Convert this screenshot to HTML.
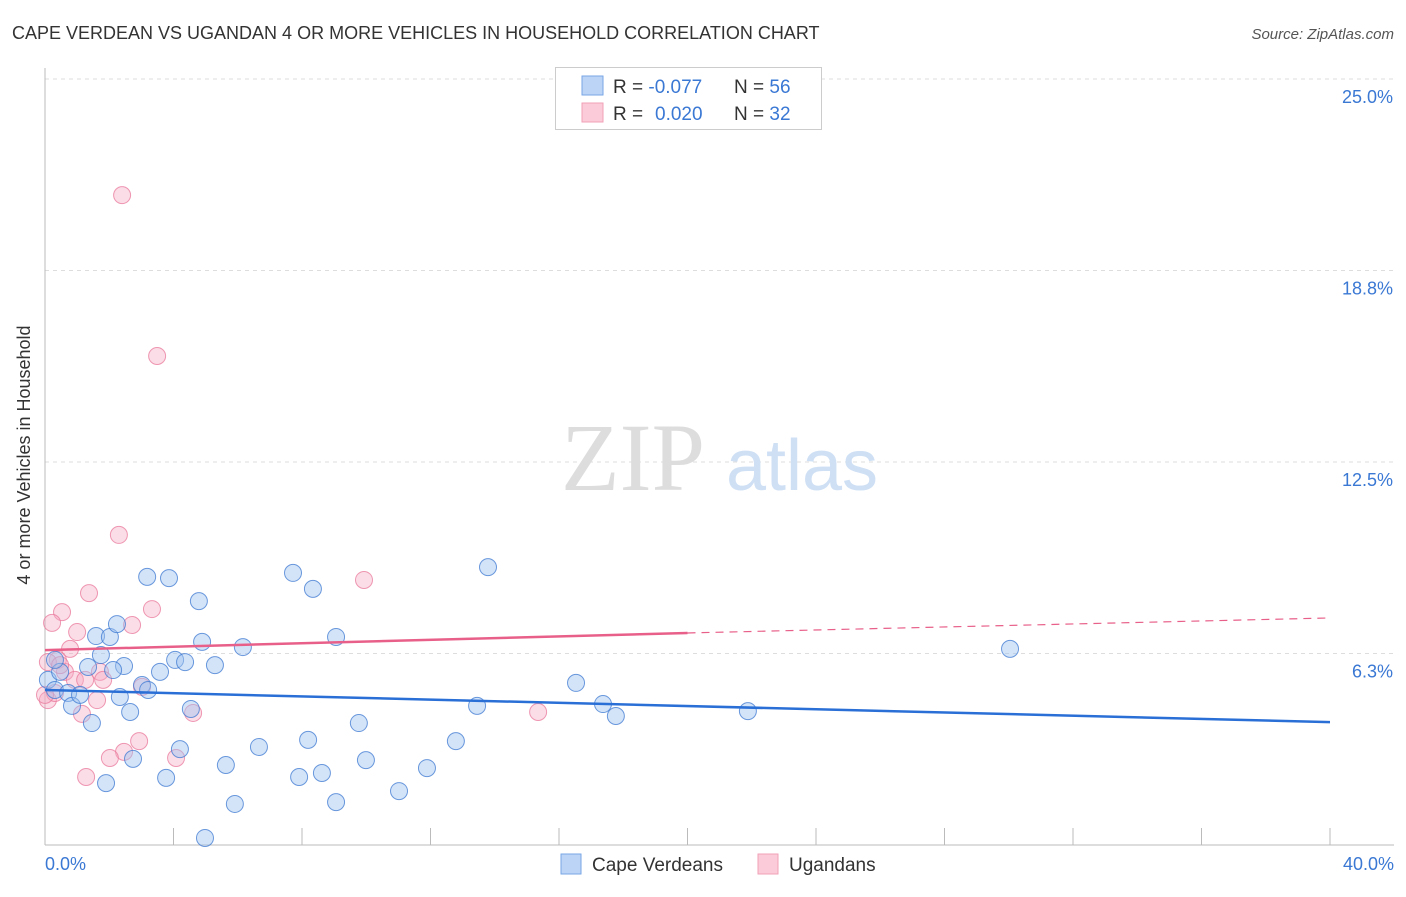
<!DOCTYPE html>
<html><head><meta charset="utf-8"><style>
body{margin:0;background:#fff;font-family:"Liberation Sans",sans-serif;}
svg text{font-family:"Liberation Sans",sans-serif;}
</style></head><body>
<svg id="chart" width="1406" height="892" xmlns="http://www.w3.org/2000/svg">
<text x="12" y="39" font-size="18" fill="#333">CAPE VERDEAN VS UGANDAN 4 OR MORE VEHICLES IN HOUSEHOLD CORRELATION CHART</text>
<text x="1394" y="39" font-size="15" fill="#555" text-anchor="end" font-style="italic">Source: ZipAtlas.com</text>
<g id="grid"></g>
<text x="633" y="490" font-size="96" fill="#ddd" text-anchor="middle" font-family="Liberation Serif" style="font-family:'Liberation Serif',serif">ZIP</text>
<text x="802" y="490" font-size="72" fill="#cfe0f5" text-anchor="middle">atlas</text>
<g id="points"></g>
<g id="trends"></g>
<text x="30" y="455" font-size="18" fill="#333" text-anchor="middle" transform="rotate(-90 30 455)">4 or more Vehicles in Household</text>
<text x="45" y="870" font-size="18" fill="#3a78d4">0.0%</text>
<text x="1394" y="870" font-size="18" fill="#3a78d4" text-anchor="end">40.0%</text>
<g>
<rect x="555.5" y="67.5" width="266" height="62" fill="#fff" stroke="#ccc"/>
<rect x="582" y="76" width="21" height="19" fill="#bcd4f6" stroke="#7aa6e6"/>
<rect x="582" y="103" width="21" height="19" fill="#fbcbd9" stroke="#f0a0b8"/>
<text x="613" y="93" font-size="19" fill="#333">R = <tspan fill="#3a78d4">-0.077</tspan></text>
<text x="734" y="93" font-size="19" fill="#333">N = <tspan fill="#3a78d4">56</tspan></text>
<text x="613" y="120" font-size="19" fill="#333">R = <tspan fill="#3a78d4" x="655">0.020</tspan></text>
<text x="734" y="120" font-size="19" fill="#333">N = <tspan fill="#3a78d4">32</tspan></text>
</g>
<g>
<rect x="561" y="854" width="20" height="20" fill="#bcd4f6" stroke="#7aa6e6"/>
<text x="592" y="871" font-size="19" fill="#333">Cape Verdeans</text>
<rect x="758" y="854" width="20" height="20" fill="#fbcbd9" stroke="#f0a0b8"/>
<text x="789" y="871" font-size="19" fill="#333">Ugandans</text>
</g>
</svg>
<script>
const yTicks=[25,18.75,12.5,6.25];
const yTickLabels=["25.0%","18.8%","12.5%","6.3%"];
const xTicks=[4,8,12,16,20,24,28,32,36,40];
const blueX=[0.09,0.31,0.47,0.72,0.84,1.09,1.34,1.46,1.59,1.74,1.90,2.02,2.24,2.33,2.46,2.65,2.74,3.02,3.18,3.21,3.58,3.77,3.86,4.05,4.20,4.36,4.54,4.79,4.89,4.98,5.29,5.63,5.91,6.16,6.66,7.72,7.91,8.19,8.34,8.62,9.06,9.06,9.77,9.99,11.02,11.89,12.79,13.45,13.79,16.53,17.37,17.77,21.88,30.04,0.31,2.12];
const blueY=[5.39,5.06,5.65,4.96,4.54,4.90,5.81,3.98,6.82,6.20,2.02,6.79,7.21,4.83,5.84,4.34,2.81,5.22,8.75,5.06,5.65,2.19,8.71,6.04,3.13,5.97,4.44,7.96,6.63,0.23,5.87,2.61,1.34,6.46,3.20,8.88,2.22,3.43,8.36,2.35,1.40,6.79,3.98,2.77,1.76,2.51,3.39,4.54,9.07,5.29,4.60,4.21,4.37,6.40,6.04,5.71];
const pinkX=[2.40,3.49,2.30,9.93,1.37,3.33,0.53,0.22,2.71,1.00,0.78,0.40,0.09,0.62,0.93,1.25,1.62,3.02,1.15,4.61,15.35,2.93,2.46,2.02,4.08,1.28,0.09,0.31,1.71,0.47,0,1.81];
const pinkY=[21.21,15.96,10.12,8.65,8.22,7.70,7.60,7.25,7.18,6.95,6.40,6.04,5.97,5.65,5.39,5.39,4.73,5.16,4.28,4.31,4.34,3.39,3.04,2.84,2.84,2.22,4.73,4.96,5.65,5.87,4.90,5.39];
const blueTrend=[5.06,4.01];
const pinkTrend=[6.36,6.92,7.41];
const NS="http://www.w3.org/2000/svg";
const X0=45,X1=1330,Y0=845,Y25=79;
const xs=v=>X0+(X1-X0)*v/40;
const ys=v=>Y0-(Y0-Y25)*v/25;
function mk(t,a,p){const e=document.createElementNS(NS,t);for(const k in a)e.setAttribute(k,a[k]);p.appendChild(e);return e;}
const grid=document.getElementById('grid');
yTicks.forEach((t,i)=>{
 const l=mk('line',{x1:X0,x2:1394,y1:ys(t),y2:ys(t),stroke:'#ddd','stroke-dasharray':'4,4'},grid);
 
 
 const tx=mk('text',{x:1393,y:ys(t)+24,'font-size':18,fill:'#3a78d4','text-anchor':'end'},grid);
 tx.textContent=yTickLabels[i];
 
 
});
const ax=mk('line',{x1:X0,x2:X0,y1:68,y2:Y0,stroke:'#bbb'},grid);


const bx=mk('line',{x1:X0,x2:1394,y1:Y0,y2:Y0,stroke:'#bbb'},grid);


xTicks.forEach(t=>{
 const l=mk('line',{x1:xs(t),x2:xs(t),y1:828,y2:Y0,stroke:'#bbb'},grid);
 
 
});
const pts=document.getElementById('points');
pinkX.forEach((x,i)=>{
 const c=mk('circle',{cx:xs(x),cy:ys(pinkY[i]),r:8.5,fill:'rgba(246,170,195,0.4)',stroke:'rgba(234,120,155,0.75)','stroke-width':1},pts);
 
 
});
blueX.forEach((x,i)=>{
 const c=mk('circle',{cx:xs(x),cy:ys(blueY[i]),r:8.5,fill:'rgba(160,195,240,0.45)',stroke:'rgba(60,120,210,0.75)','stroke-width':1},pts);
 
 
});
const tr=document.getElementById('trends');
const b=mk('line',{x1:xs(0),y1:ys(blueTrend[0]),x2:xs(40),y2:ys(blueTrend[1]),stroke:'#2a6fd6','stroke-width':2.5},tr);


const p=mk('line',{x1:xs(0),y1:ys(pinkTrend[0]),x2:xs(20),y2:ys(pinkTrend[1]),stroke:'#e8608a','stroke-width':2.5},tr);


const pd=mk('line',{x1:xs(20),y1:ys(pinkTrend[1]),x2:xs(40),y2:ys(pinkTrend[2]),stroke:'#e8608a','stroke-width':1.2,'stroke-dasharray':'8,6'},tr);


</script>
</body></html>
